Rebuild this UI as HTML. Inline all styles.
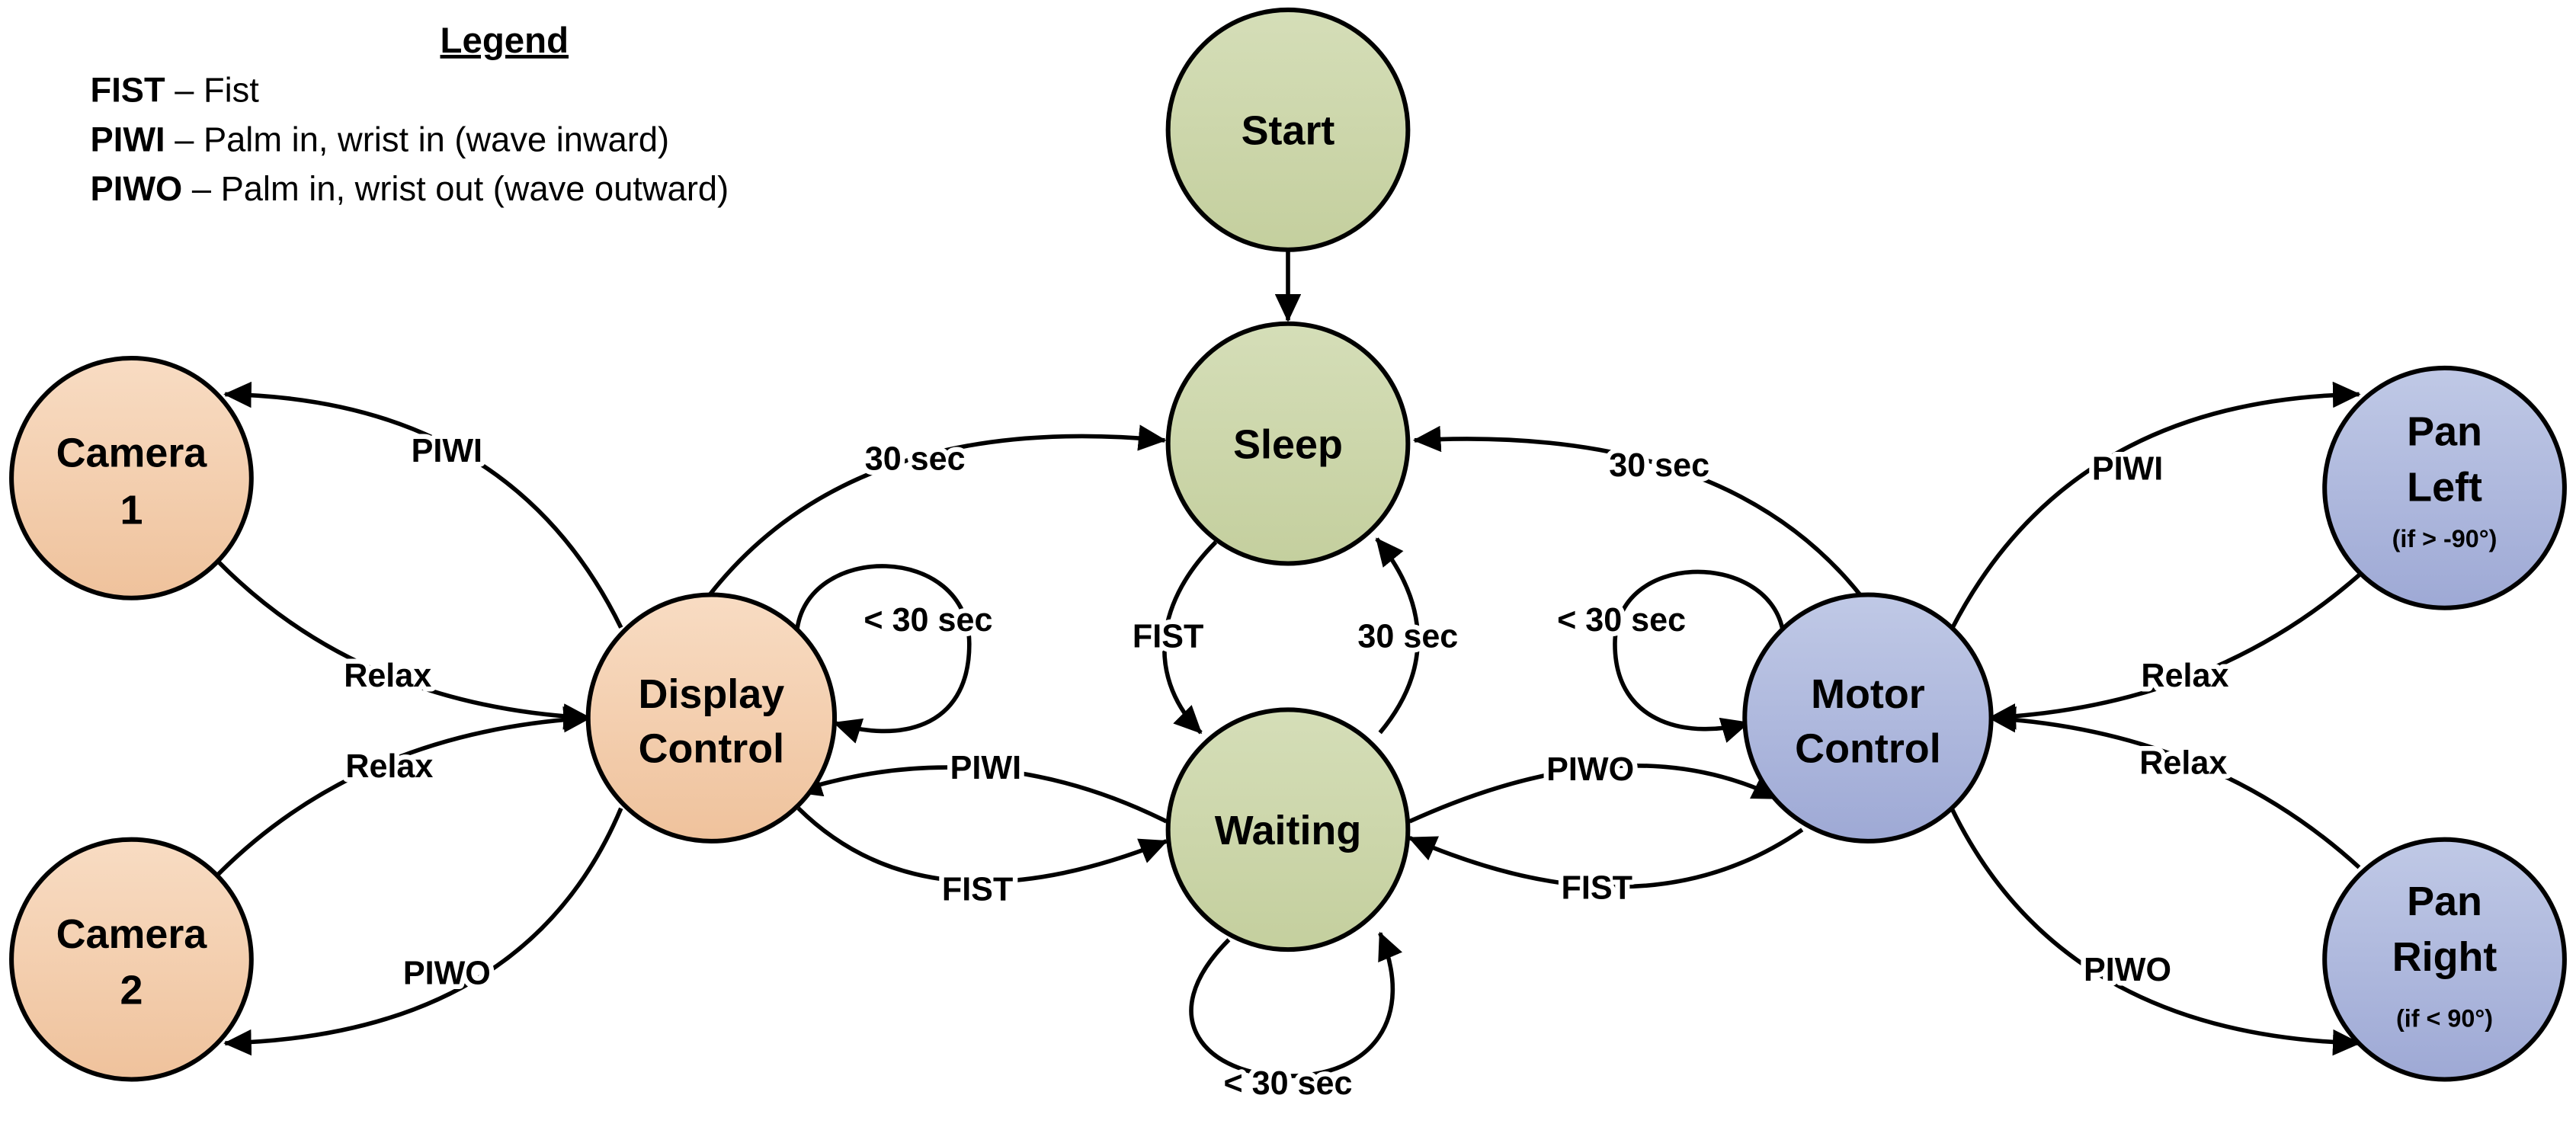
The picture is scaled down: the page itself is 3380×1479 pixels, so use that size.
<!DOCTYPE html>
<html><head><meta charset="utf-8"><style>
html,body{margin:0;padding:0;background:#fff}
svg{display:block}
text{font-family:"Liberation Sans",sans-serif;font-weight:bold;fill:#000}
.n{font-size:25px;text-anchor:middle}
.e{font-size:20px;text-anchor:middle;stroke:#fff;stroke-width:6px;paint-order:stroke;stroke-linejoin:round}
.l{font-size:21px;font-weight:normal}
path.c{fill:none;stroke:#000;stroke-width:2.6}
circle{stroke:#000;stroke-width:2.8}
</style></head><body>
<svg width="3380" height="1479" viewBox="0 0 1568 686" preserveAspectRatio="none" xmlns="http://www.w3.org/2000/svg">
<defs>
<linearGradient id="go" x1="0" y1="0" x2="0" y2="1"><stop offset="0" stop-color="#f8dcc3"/><stop offset="1" stop-color="#efc29c"/></linearGradient>
<linearGradient id="gg" x1="0" y1="0" x2="0" y2="1"><stop offset="0" stop-color="#d5deb8"/><stop offset="1" stop-color="#c4cf9e"/></linearGradient>
<linearGradient id="gb" x1="0" y1="0" x2="0" y2="1"><stop offset="0" stop-color="#c0c9e6"/><stop offset="1" stop-color="#9ea9d5"/></linearGradient>
<marker id="a" markerUnits="userSpaceOnUse" markerWidth="18" markerHeight="16" refX="16" refY="8" orient="auto"><path d="M0,0 L17,8 L0,16 z" fill="#000"/></marker>
</defs>

<!-- legend -->
<text x="307" y="32" style="font-size:22px;text-anchor:middle;text-decoration:underline">Legend</text>
<text x="55" y="62" class="l"><tspan font-weight="bold">FIST</tspan> – Fist</text>
<text x="55" y="92" class="l"><tspan font-weight="bold">PIWI</tspan> – Palm in, wrist in (wave inward)</text>
<text x="55" y="122" class="l"><tspan font-weight="bold">PIWO</tspan> – Palm in, wrist out (wave outward)</text>

<!-- edges -->
<path class="c" d="M784,152 L784,195" marker-end="url(#a)"/>
<path class="c" d="M432,362 Q520,250 709,268" marker-end="url(#a)"/>
<path class="c" d="M1133,363 Q1050,258 861,268" marker-end="url(#a)"/>
<path class="c" d="M740,330 C700,370 700,415 731,446" marker-end="url(#a)"/>
<path class="c" d="M840,446 C870,410 872,370 838,328" marker-end="url(#a)"/>
<path class="c" d="M748,572 C700,620 735,655 784,655 C835,655 862,620 840,568" marker-end="url(#a)"/>
<path class="c" d="M485,385 C490,330 590,330 590,392 C590,445 545,452 508,440" marker-end="url(#a)"/>
<path class="c" d="M1085,383 C1075,335 983,335 983,392 C983,442 1030,450 1064,440" marker-end="url(#a)"/>
<path class="c" d="M710,500 Q600,445 484,482" marker-end="url(#a)"/>
<path class="c" d="M486,492 Q565,570 710,512" marker-end="url(#a)"/>
<path class="c" d="M858,500 Q990,440 1083,486" marker-end="url(#a)"/>
<path class="c" d="M1097,505 Q1000,572 858,510" marker-end="url(#a)"/>
<path class="c" d="M378,382 Q310,243 137,240" marker-end="url(#a)"/>
<path class="c" d="M133,342 Q220,430 359,437" marker-end="url(#a)"/>
<path class="c" d="M133,532 Q220,445 359,437" marker-end="url(#a)"/>
<path class="c" d="M378,492 Q320,630 137,635" marker-end="url(#a)"/>
<path class="c" d="M1188,383 Q1260,243 1436,240" marker-end="url(#a)"/>
<path class="c" d="M1436,350 Q1345,430 1211,437" marker-end="url(#a)"/>
<path class="c" d="M1436,528 Q1345,445 1211,437" marker-end="url(#a)"/>
<path class="c" d="M1188,492 Q1255,630 1436,635" marker-end="url(#a)"/>

<!-- edge labels -->
<text class="e" x="557" y="286">30 sec</text>
<text class="e" x="1010" y="290">30 sec</text>
<text class="e" x="711" y="394">FIST</text>
<text class="e" x="857" y="394">30 sec</text>
<text class="e" x="784" y="666">&lt; 30 sec</text>
<text class="e" x="565" y="384">&lt; 30 sec</text>
<text class="e" x="987" y="384">&lt; 30 sec</text>
<text class="e" x="600" y="474">PIWI</text>
<text class="e" x="595" y="548">FIST</text>
<text class="e" x="968" y="475">PIWO</text>
<text class="e" x="972" y="547">FIST</text>
<text class="e" x="272" y="281">PIWI</text>
<text class="e" x="236" y="418">Relax</text>
<text class="e" x="237" y="473">Relax</text>
<text class="e" x="272" y="599">PIWO</text>
<text class="e" x="1295" y="292">PIWI</text>
<text class="e" x="1330" y="418">Relax</text>
<text class="e" x="1329" y="471">Relax</text>
<text class="e" x="1295" y="597">PIWO</text>

<!-- nodes -->
<circle cx="784" cy="79" r="73" fill="url(#gg)"/>
<circle cx="784" cy="270" r="73" fill="url(#gg)"/>
<circle cx="784" cy="505" r="73" fill="url(#gg)"/>
<circle cx="433" cy="437" r="75" fill="url(#go)"/>
<circle cx="80" cy="291" r="73" fill="url(#go)"/>
<circle cx="80" cy="584" r="73" fill="url(#go)"/>
<circle cx="1137" cy="437" r="75" fill="url(#gb)"/>
<circle cx="1488" cy="297" r="73" fill="url(#gb)"/>
<circle cx="1488" cy="584" r="73" fill="url(#gb)"/>

<text class="n" x="784" y="88">Start</text>
<text class="n" x="784" y="279">Sleep</text>
<text class="n" x="784" y="514">Waiting</text>
<text class="n" x="433" y="431">Display</text>
<text class="n" x="433" y="464">Control</text>
<text class="n" x="80" y="284">Camera</text>
<text class="n" x="80" y="319">1</text>
<text class="n" x="80" y="577">Camera</text>
<text class="n" x="80" y="611">2</text>
<text class="n" x="1137" y="431">Motor</text>
<text class="n" x="1137" y="464">Control</text>
<text class="n" x="1488" y="271">Pan</text>
<text class="n" x="1488" y="305">Left</text>
<text class="n" x="1488" y="333" style="font-size:15px">(if &gt; -90°)</text>
<text class="n" x="1488" y="557">Pan</text>
<text class="n" x="1488" y="591">Right</text>
<text class="n" x="1488" y="625" style="font-size:15px">(if &lt; 90°)</text>
</svg>
</body></html>
